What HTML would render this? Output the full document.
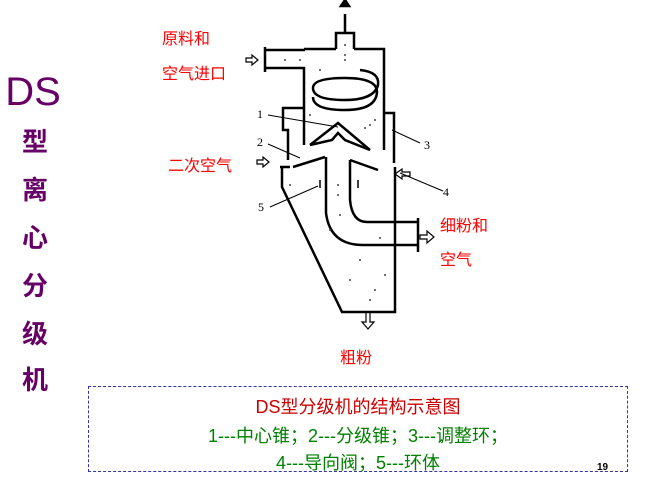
<!DOCTYPE html>
<html><head><meta charset="utf-8"><style>
body{margin:0;width:653px;height:484px;background:#fff;position:relative;overflow:hidden;font-family:"Liberation Sans","Noto Sans CJK SC",sans-serif}
.r{position:absolute;color:#f00;font-size:16px}
.v{position:absolute;left:0;width:70px;text-align:center;color:#660066;font-size:26px;font-weight:bold}
.box{position:absolute;left:88px;top:386px;width:540px;height:86px;border:1px dashed #3333aa;box-sizing:border-box}
.box div{position:absolute;width:100%;text-align:center;font-size:18px}
</style></head><body>
<div class="v" style="top:70px;font-size:40px;font-weight:normal;left:-2px">DS</div>
<div class="v" style="top:122px">型</div>
<div class="v" style="top:170px">离</div>
<div class="v" style="top:218px">心</div>
<div class="v" style="top:266px">分</div>
<div class="v" style="top:314px">级</div>
<div class="v" style="top:360px">机</div>
<div class="r" style="left:162px;top:25px">原料和</div>
<div class="r" style="left:162px;top:60px">空气进口</div>
<div class="r" style="left:168px;top:152px">二次空气</div>
<div class="r" style="left:440px;top:212px">细粉和</div>
<div class="r" style="left:440px;top:246px">空气</div>
<div class="r" style="left:340px;top:344px">粗粉</div>
<svg width="653" height="484" style="position:absolute;left:0;top:0" fill="none" stroke="#000" stroke-width="2.5">
<path d="M265,47V72M265,50H305M265,68H304V108H283V130H288V160M304,108V145"/>
<path d="M304,49H336M354,49H384V113H394V163M384,113V150M336,49V33H354V49M345,33V14"/>
<path d="M341,6l4,-6l4,6z" fill="#000"/>
<path d="M280,167H290M282,167V187L342,312H395V172M395,167V178"/>
<path d="M326,157V213Q330,245 363,245H417M350,160V200Q352,222 367,222H417M418,218V252"/>
<path d="M310,145L338,123L370,150M310,145L332,140L338,133L345,140L370,150"/>
<path d="M293,167L325,157M350,160L378,170"/>
<path d="M360,70Q380,72 378,85Q374,100 345,100Q313,100 313,88Q313,78 345,78Q377,78 377,92Q376,110 345,110Q313,110 313,97"/>
<path d="M320,180V188M358,180V188" stroke-width="1.5"/>
<g stroke-width="1"><path d="M268,115L338,127M268,144L300,158M420,143L392,130M443,191L400,173M270,207L318,186"/></g>
<path d="M246,58h6v-3l6,5l-6,5v-3h-6z M257,160h6v-3l6,5l-6,5v-3h-6z M420,235h7v-4l7,6l-7,6v-4h-7z M410,172h-8v-3l-7,5l7,5v-3h8z M366,312v10h-4l6,7l6,-7h-4v-10z" stroke-width="1.2"/>
<g font-family="Liberation Serif" font-size="12" fill="#000" stroke="none"><text x="257" y="118">1</text><text x="257" y="146">2</text><text x="424" y="149">3</text><text x="443" y="196">4</text><text x="258" y="211">5</text></g>
<g fill="#444" stroke="none"><circle cx="345" cy="60" r="1"/><circle cx="320" cy="70" r="1"/><circle cx="370" cy="125" r="1"/><circle cx="360" cy="260" r="1"/><circle cx="375" cy="290" r="1"/><circle cx="330" cy="230" r="1"/><circle cx="300" cy="60" r="1"/><circle cx="310" cy="115" r="1"/><circle cx="375" cy="120" r="1"/><circle cx="365" cy="128" r="1"/><circle cx="338" cy="185" r="1"/><circle cx="340" cy="215" r="1"/><circle cx="380" cy="238" r="1"/><circle cx="350" cy="280" r="1"/><circle cx="370" cy="300" r="1"/><circle cx="385" cy="275" r="1"/><circle cx="290" cy="185" r="1"/><circle cx="285" cy="60" r="1"/><circle cx="345" cy="45" r="1"/><circle cx="345" cy="55" r="1"/><circle cx="338" cy="195" r="1"/></g>
</svg>
<div class="box">
<div style="top:6px;color:#cc0000">DS型分级机的结构示意图</div>
<div style="top:35px;color:#008000">1---中心锥；2---分级锥；3---调整环；</div>
<div style="top:62px;color:#008000">4---导向阀；5---环体</div>
</div>
<div style="position:absolute;left:597px;top:462px;font-size:10px;font-weight:bold">19</div>
</body></html>
